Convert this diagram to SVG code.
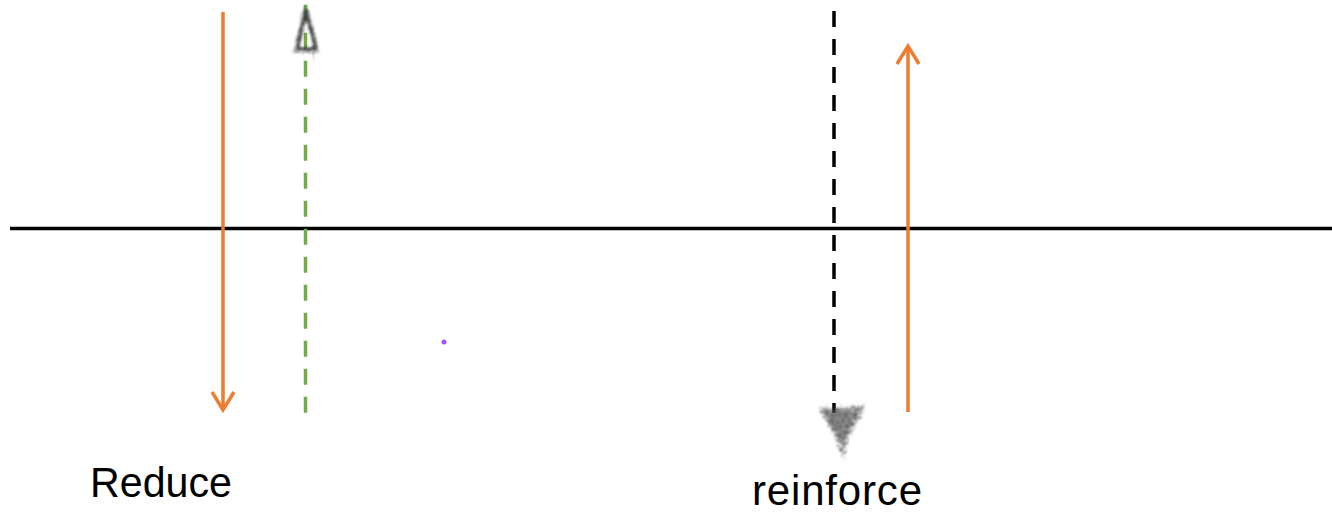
<svg xmlns="http://www.w3.org/2000/svg" width="1332" height="512" viewBox="0 0 1332 512">
  <style>
    .axis { stroke: #000; stroke-width: 3.5; fill: none; }
    .flow { stroke: #ED7D31; stroke-width: 3.5; fill: none; stroke-linecap: butt; stroke-linejoin: miter; }
    .dash-green { stroke: #70AD47; stroke-width: 3.5; stroke-dasharray: 16 12; fill: none; }
    .dash-black { stroke: #000; stroke-width: 3.5; stroke-dasharray: 16 12; fill: none; }
    .label { font-family: "Liberation Sans", Arial, sans-serif; font-size: 42px; fill: #000; }
  </style>
  <defs>
    <!-- rough, sprayed look for the hand-drawn markers -->
    <filter id="rough" x="-50%" y="-50%" width="200%" height="200%">
      <feTurbulence type="fractalNoise" baseFrequency="0.9" numOctaves="2" seed="3" result="noise"/>
      <feDisplacementMap in="SourceGraphic" in2="noise" scale="6" xChannelSelector="R" yChannelSelector="G" result="disp"/>
      <feGaussianBlur in="disp" stdDeviation="0.8"/>
    </filter>
    <filter id="spray" x="-50%" y="-50%" width="200%" height="200%">
      <feTurbulence type="fractalNoise" baseFrequency="0.6" numOctaves="3" seed="7" result="noise"/>
      <feDisplacementMap in="SourceGraphic" in2="noise" scale="10" xChannelSelector="R" yChannelSelector="G" result="disp"/>
      <feGaussianBlur in="disp" stdDeviation="1.2"/>
    </filter>
    <!-- blotchy fill: the shape's alpha is broken up by noise -->
    <filter id="mottle" x="-50%" y="-50%" width="200%" height="200%">
      <feTurbulence type="fractalNoise" baseFrequency="0.35" numOctaves="2" seed="11" result="noise"/>
      <feDisplacementMap in="SourceGraphic" in2="noise" scale="10" xChannelSelector="R" yChannelSelector="G" result="disp"/>
      <feColorMatrix in="noise" type="matrix" values="0 0 0 0 0  0 0 0 0 0  0 0 0 0 0  0 0 0 2.2 -0.6" result="blots"/>
      <feComposite in="disp" in2="blots" operator="in" result="spots"/>
      <feGaussianBlur in="spots" stdDeviation="0.9"/>
    </filter>
  </defs>

  <g id="connectors">
    <!-- horizontal axis -->
    <line class="axis" x1="10" y1="228.5" x2="1332" y2="228.5"/>
    <!-- downward orange arrow -->
    <line class="flow" x1="223" y1="12" x2="223" y2="409"/>
    <polyline class="flow" points="212,392 223,410 234,392"/>
    <!-- upward orange arrow -->
    <line class="flow" x1="908" y1="48" x2="908" y2="412"/>
    <polyline class="flow" points="897,64 908,46 919,64"/>
    <!-- green dashed line -->
    <line class="dash-green" x1="305.5" y1="4.7" x2="305.5" y2="412.7"/>
    <!-- black dashed line -->
    <line class="dash-black" x1="834" y1="11" x2="834" y2="413"/>
  </g>

  <g id="marker-top">
    <polygon points="306,11 297,49 316,49" fill="none" stroke="#222" stroke-width="3.5" stroke-linejoin="round" filter="url(#rough)" opacity="0.85"/>
    <polygon points="306,8 295,52 318,52" fill="none" stroke="#666" stroke-width="2" filter="url(#spray)" opacity="0.6"/>
    <line x1="313" y1="50" x2="314" y2="60" stroke="#888" stroke-width="1.5" filter="url(#spray)" opacity="0.6"/>
  </g>

  <g id="marker-bottom">
    <path d="M818,408 L866,406 L850,436 L843,460 L835,436 Z" fill="#444" filter="url(#mottle)" opacity="0.85"/>
    <path d="M822,410 L860,410 L842,444 Z" fill="#555" filter="url(#spray)" opacity="0.55"/>
  </g>

  <g id="dot">
    <circle cx="444" cy="342" r="2.5" fill="#9933FF" opacity="0.85"/>
  </g>

  <g id="label-reduce">
    <text class="label" x="90" y="497" textLength="142" lengthAdjust="spacingAndGlyphs">Reduce</text>
  </g>
  <g id="label-reinforce">
    <text class="label" x="752" y="505" textLength="170" lengthAdjust="spacing">reinforce</text>
  </g>
</svg>
